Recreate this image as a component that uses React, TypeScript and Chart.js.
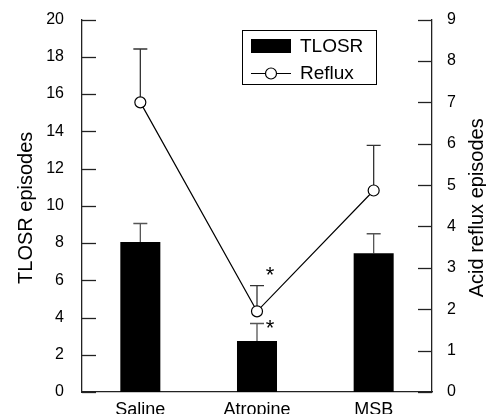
import { useEffect, useRef } from "react";
import { Chart, registerables } from "chart.js";

Chart.register(...registerables);

const categories = ["Saline", "Atropine", "MSB"];
const tlosrValues = [8.05, 2.74, 7.45];
const tlosrErrorTops = [9.05, 3.68, 8.5];
const refluxValues = [7.0, 1.95, 4.87];
const refluxErrorTops = [8.29, 2.57, 5.96];
const significantTlosr = [false, true, false];
const significantReflux = [false, true, false];
const leftTitle = "TLOSR episodes";
const rightTitle = "Acid reflux episodes";
const seriesLabels = ["TLOSR", "Reflux"];

const FONT = "'Liberation Sans', Arial, Helvetica, sans-serif";

const decorPlugin = {
  id: "decor",
  beforeDatasetsDraw(chart: any) {
    const ctx = chart.ctx;
    const yL = chart.scales.y;
    const yR = chart.scales.y1;
    const barMeta = chart.getDatasetMeta(0);
    const lineMeta = chart.getDatasetMeta(1);
    ctx.save();
    ctx.lineWidth = 1.3;
    ctx.strokeStyle = "#555";
    barMeta.data.forEach((el: any, i: number) => {
      const top = yL.getPixelForValue(tlosrErrorTops[i]);
      ctx.beginPath();
      ctx.moveTo(el.x, el.y);
      ctx.lineTo(el.x, top);
      ctx.moveTo(el.x - 7, top);
      ctx.lineTo(el.x + 7, top);
      ctx.stroke();
    });
    ctx.strokeStyle = "#333";
    lineMeta.data.forEach((el: any, i: number) => {
      const top = yR.getPixelForValue(refluxErrorTops[i]);
      ctx.beginPath();
      ctx.moveTo(el.x, el.y);
      ctx.lineTo(el.x, top);
      ctx.moveTo(el.x - 7, top);
      ctx.lineTo(el.x + 7, top);
      ctx.stroke();
    });
    ctx.restore();
  },
  afterDraw(chart: any) {
    const ctx = chart.ctx;
    const area = chart.chartArea;
    const yL = chart.scales.y;
    const yR = chart.scales.y1;
    ctx.save();
    // inward tick marks
    ctx.strokeStyle = "#222";
    ctx.lineWidth = 1.3;
    yL.ticks.forEach((t: any) => {
      const p = Math.round(yL.getPixelForValue(t.value)) + 0.5;
      ctx.beginPath();
      ctx.moveTo(area.left, p);
      ctx.lineTo(area.left + 14, p);
      ctx.stroke();
    });
    yR.ticks.forEach((t: any) => {
      const p = Math.round(yR.getPixelForValue(t.value)) + 0.5;
      ctx.beginPath();
      ctx.moveTo(area.right - 14, p);
      ctx.lineTo(area.right, p);
      ctx.stroke();
    });

    // axis titles (both read bottom-to-top)
    ctx.fillStyle = "#000";
    ctx.font = `20px ${FONT}`;
    ctx.textAlign = "center";
    ctx.textBaseline = "alphabetic";
    const midY = (area.top + area.bottom) / 2 + 2;
    ctx.save();
    ctx.translate(32, midY);
    ctx.rotate(-Math.PI / 2);
    ctx.fillText(leftTitle, 0, 0);
    ctx.restore();
    ctx.save();
    ctx.translate(483, midY);
    ctx.rotate(-Math.PI / 2);
    ctx.fillText(rightTitle, 0, 0);
    ctx.restore();

    // significance asterisks
    const barMeta = chart.getDatasetMeta(0);
    const lineMeta = chart.getDatasetMeta(1);
    ctx.font = `22px ${FONT}`;
    ctx.textAlign = "center";
    ctx.textBaseline = "alphabetic";
    barMeta.data.forEach((el: any, i: number) => {
      if (!significantTlosr[i]) return;
      const top = yL.getPixelForValue(tlosrErrorTops[i]);
      ctx.fillText("*", el.x + 13, top + 12);
    });
    lineMeta.data.forEach((el: any, i: number) => {
      if (!significantReflux[i]) return;
      const top = yR.getPixelForValue(refluxErrorTops[i]);
      ctx.fillText("*", el.x + 13, top - 4);
    });

    // legend
    const lx = 242, ly = 30, lw = 134, lh = 54;
    ctx.strokeStyle = "#000";
    ctx.lineWidth = 1;
    ctx.strokeRect(lx + 0.5, ly + 0.5, lw, lh);
    ctx.fillStyle = "#000";
    ctx.fillRect(lx + 9, ly + 9, 40, 14);
    ctx.font = `19px ${FONT}`;
    ctx.textAlign = "left";
    ctx.textBaseline = "middle";
    ctx.fillText(seriesLabels[0], lx + 58, ly + 17);
    ctx.beginPath();
    ctx.moveTo(lx + 9, ly + 43.5);
    ctx.lineTo(lx + 49, ly + 43.5);
    ctx.lineWidth = 1.2;
    ctx.stroke();
    ctx.beginPath();
    ctx.arc(lx + 29, ly + 43.5, 5.5, 0, Math.PI * 2);
    ctx.fillStyle = "#fff";
    ctx.fill();
    ctx.stroke();
    ctx.fillStyle = "#000";
    ctx.fillText(seriesLabels[1], lx + 58, ly + 44);
    ctx.restore();
  },
};

export default function App() {
  const canvasRef = useRef<HTMLCanvasElement | null>(null);

  useEffect(() => {
    const canvas = canvasRef.current;
    if (!canvas) return;
    const chart = new Chart(canvas, {
      type: "bar",
      data: {
        labels: categories,
        datasets: [
          {
            type: "bar",
            label: seriesLabels[0],
            data: tlosrValues,
            backgroundColor: "#000",
            borderWidth: 0,
            barPercentage: 0.343,
            categoryPercentage: 1,
            yAxisID: "y",
            order: 2,
          } as any,
          {
            type: "line",
            label: seriesLabels[1],
            data: refluxValues,
            borderColor: "#000",
            borderWidth: 1.2,
            pointRadius: 5.5,
            pointBackgroundColor: "#fff",
            pointBorderColor: "#000",
            pointBorderWidth: 1.2,
            tension: 0,
            yAxisID: "y1",
            order: 1,
          } as any,
        ],
      },
      options: {
        animation: false,
        responsive: false,
        layout: { padding: { top: 19, left: 0, right: 0, bottom: 0 } },
        plugins: {
          legend: { display: false },
          tooltip: { enabled: false },
        },
        scales: {
          x: {
            type: "category",
            offset: true,
            grid: { display: false },
            border: { display: true, color: "#222", width: 1.3 },
            ticks: {
              color: "#000",
              font: { family: FONT, size: 18 },
              padding: -1,
              maxRotation: 0,
            },
            afterFit: (s: any) => {
              s.height = 22;
            },
          },
          y: {
            position: "left",
            min: 0,
            max: 20,
            grid: { display: false },
            border: { display: true, color: "#222", width: 1.3 },
            ticks: {
              stepSize: 2,
              color: "#000",
              font: { family: FONT, size: 16 },
              padding: 10,
            },
            afterFit: (s: any) => {
              s.width = 82;
            },
          },
          y1: {
            position: "right",
            min: 0,
            max: 9,
            grid: { display: false },
            border: { display: true, color: "#222", width: 1.3 },
            ticks: {
              stepSize: 1,
              color: "#000",
              font: { family: FONT, size: 16 },
              padding: 7,
            },
            afterFit: (s: any) => {
              s.width = 54;
            },
          },
        },
      } as any,
      plugins: [decorPlugin],
    });
    return () => chart.destroy();
  }, []);

  return (
    <div style={{ position: "fixed", left: 0, top: 0, width: 486, height: 414, background: "#fff" }}>
      <canvas ref={canvasRef} width={486} height={414} />
    </div>
  );
}
